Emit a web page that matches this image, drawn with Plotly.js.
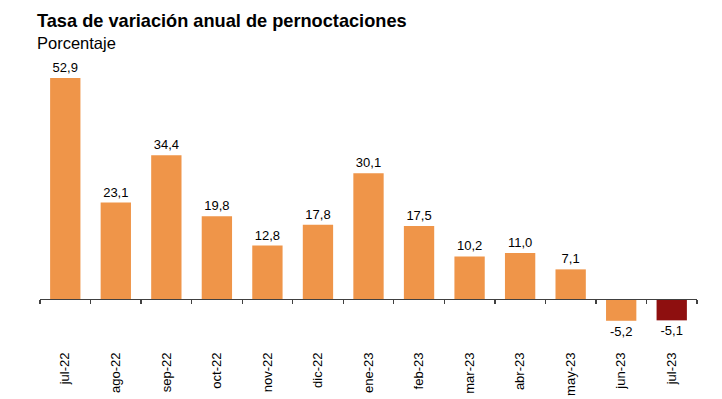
<!DOCTYPE html>
<html><head><meta charset="utf-8">
<script src="https://cdn.plot.ly/plotly-3.0.1.min.js"></script>
<style>body{margin:0;background:#fff}#c{width:722px;height:399px}</style>
</head><body><div id="c"></div>
<script>
const categories = ["jul-22","ago-22","sep-22","oct-22","nov-22","dic-22","ene-23","feb-23","mar-23","abr-23","may-23","jun-23","jul-23"];
const values = [52.9,23.1,34.4,19.8,12.8,17.8,30.1,17.5,10.2,11.0,7.1,-5.2,-5.1];
const barColors = ["#EF9549","#EF9549","#EF9549","#EF9549","#EF9549","#EF9549","#EF9549","#EF9549","#EF9549","#EF9549","#EF9549","#EF9549","#8E0F0F"];

const yMin = -9.8, yMax = 57.2;
const zeroPos = (0 - yMin) / (yMax - yMin);

const data = [{
  type: "bar",
  x: categories,
  y: values,
  marker: {color: barColors, line: {width: 0}},
  texttemplate: "%{y:.1f}",
  textposition: "outside",
  textfont: {family: "Liberation Sans, Arial, sans-serif", size: 13, color: "#000"},
  cliponaxis: false,
  hoverinfo: "none"
}];

const layout = {
  width: 722, height: 399,
  margin: {l: 40, r: 25, t: 60, b: 59},
  paper_bgcolor: "#fff", plot_bgcolor: "#fff",
  separators: ",.",
  bargap: 0.4,
  showlegend: false,
  font: {family: "Liberation Sans, Arial, sans-serif", color: "#000"},
  title: {
    text: "<b>Tasa de variación anual de pernoctaciones</b>",
    font: {size: 18.2, color: "#000"},
    xref: "container", yref: "container",
    x: 37/722, xanchor: "left", y: 1 - 21/399, yanchor: "middle"
  },
  annotations: [{
    text: "Porcentaje", xref: "paper", yref: "paper",
    x: -5/657, xanchor: "left", y: (340 - 43) / 280, yanchor: "middle",
    showarrow: false, font: {size: 16.5, color: "#000"}
  }],
  xaxis: {
    type: "category",
    anchor: "free", position: zeroPos,
    showline: true, linecolor: "#404040", linewidth: 1.3,
    ticks: "outside", tickson: "boundaries", ticklen: 4, tickcolor: "#404040", tickwidth: 1.3,
    tickangle: -90,
    ticklabelstandoff: 47,
    tickfont: {size: 13, color: "#000"},
    showgrid: false, zeroline: false, fixedrange: true
  },
  yaxis: {
    range: [yMin, yMax],
    visible: false, showgrid: false, zeroline: false, fixedrange: true
  }
};
Plotly.newPlot("c", data, layout, {displayModeBar: false, staticPlot: true});
</script></body></html>
